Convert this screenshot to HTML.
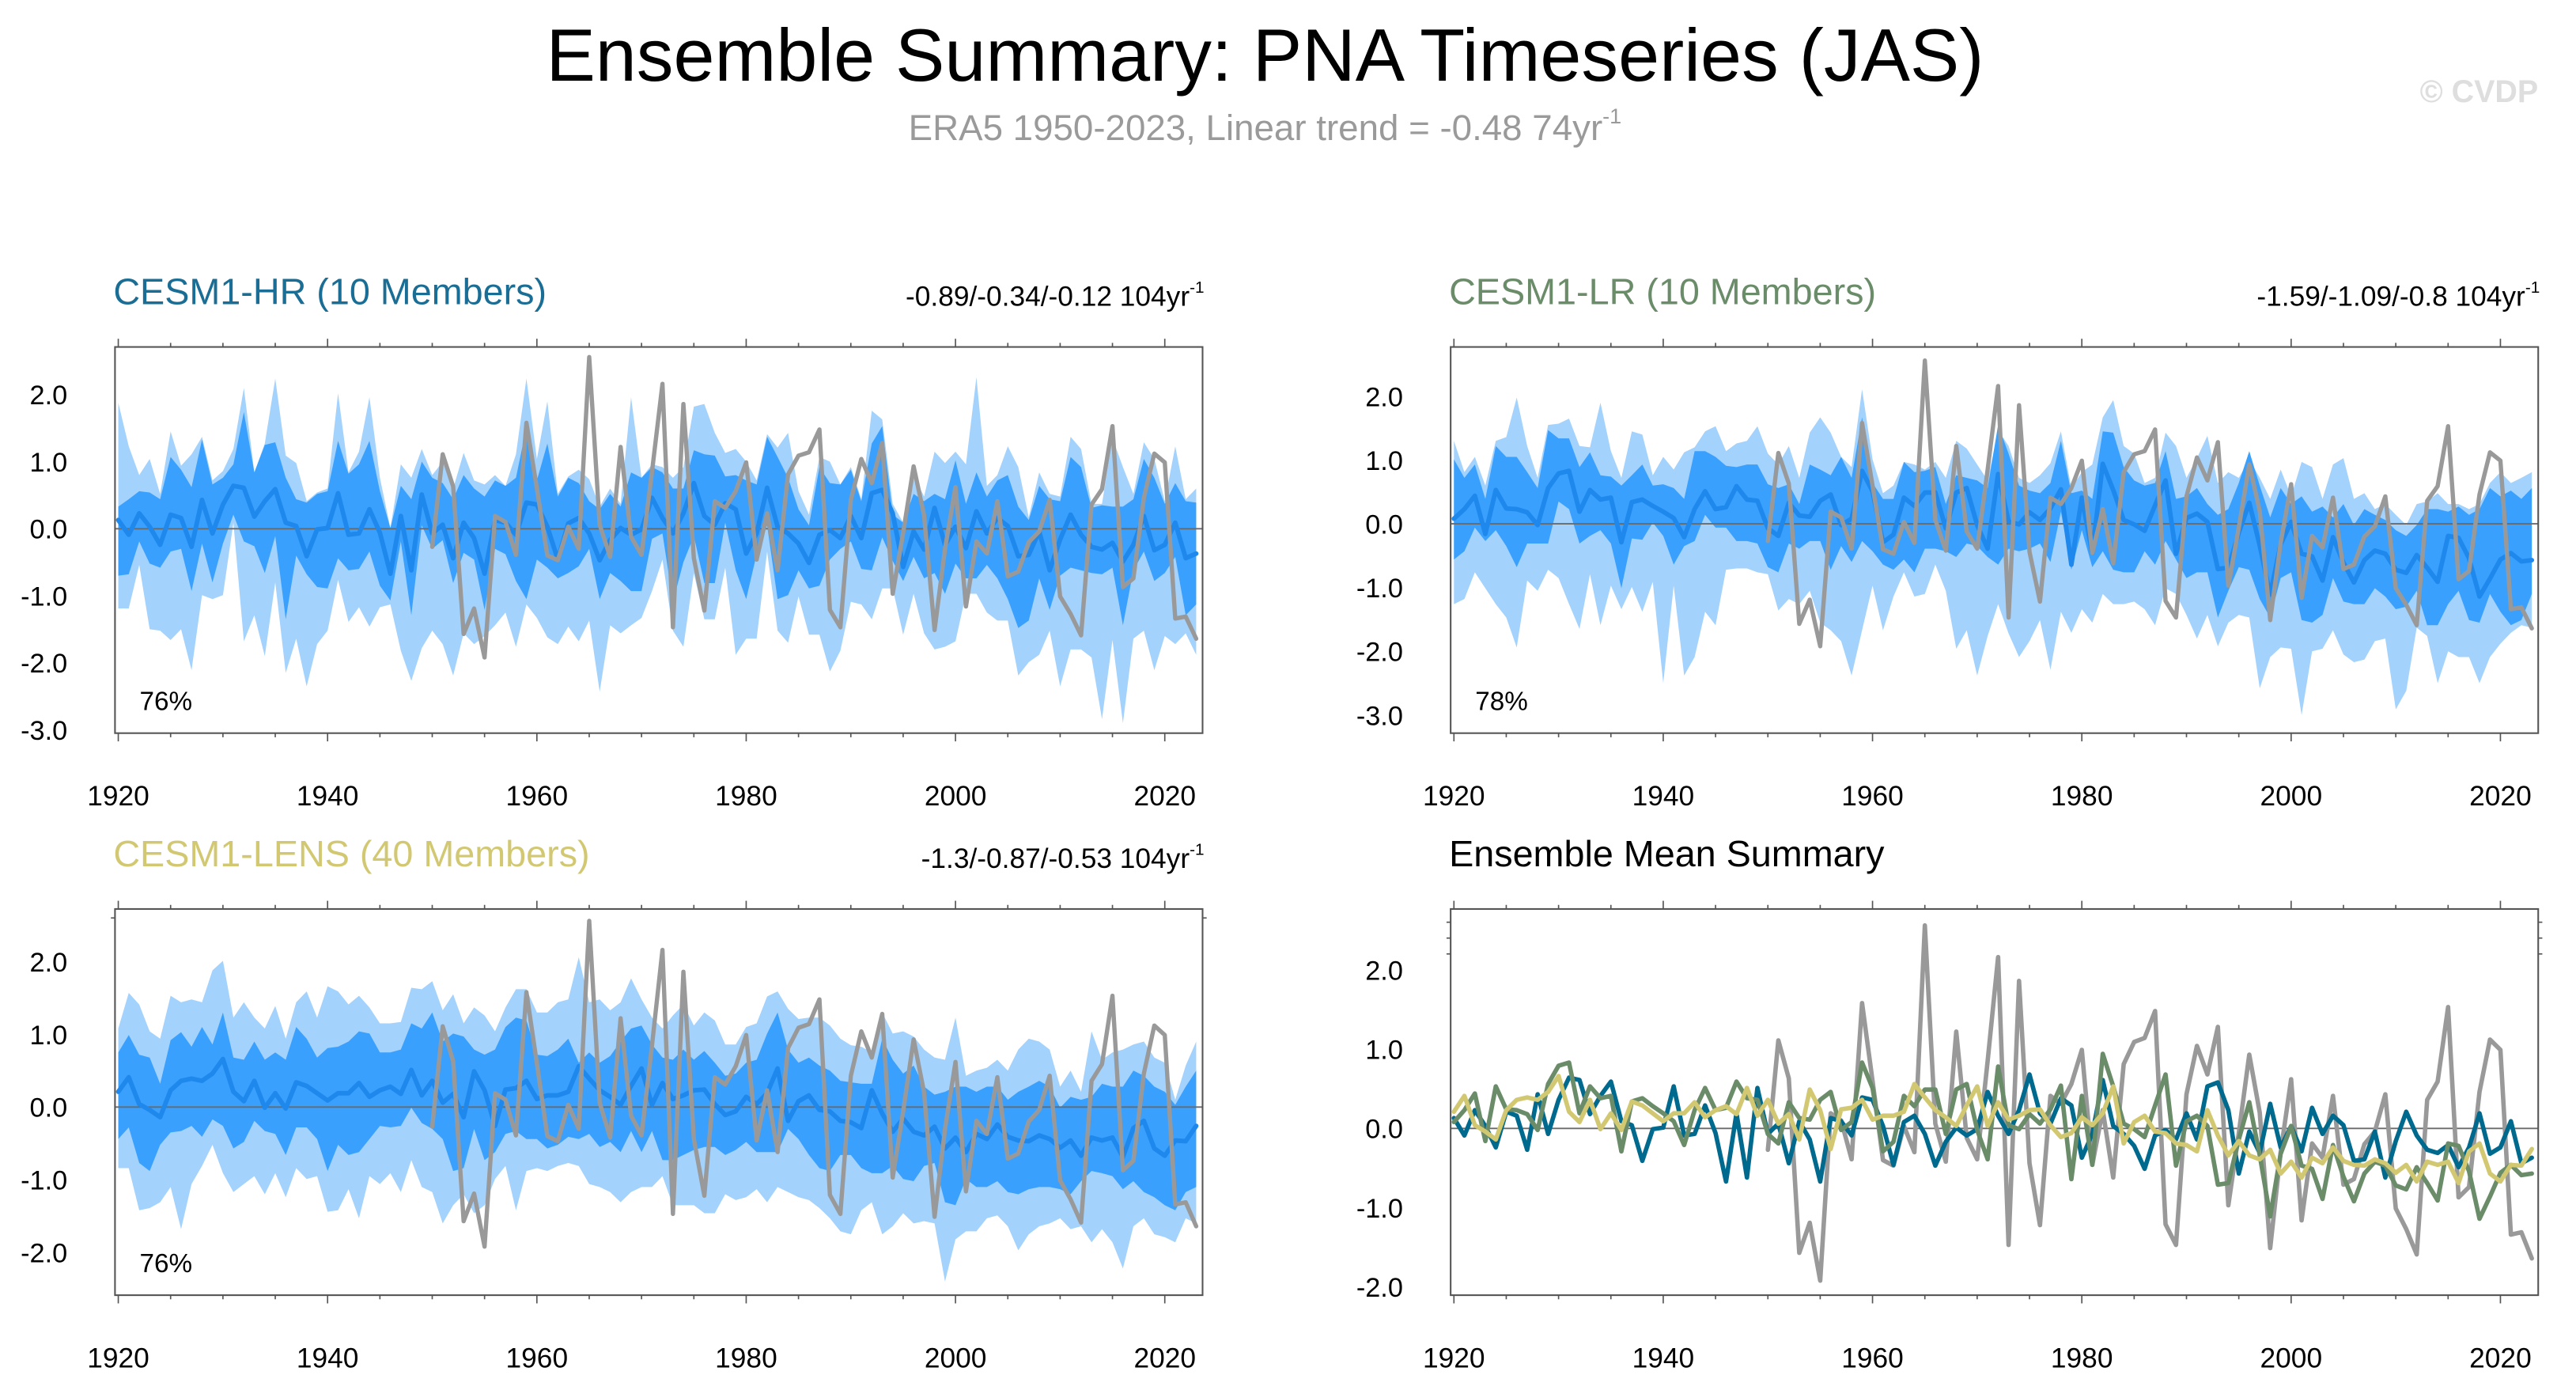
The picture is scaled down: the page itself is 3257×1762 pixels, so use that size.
<!DOCTYPE html>
<html><head><meta charset="utf-8"><style>
html,body{margin:0;padding:0;background:#fff;}
svg{display:block;font-family:"Liberation Sans",Arial,sans-serif;}
</style></head><body>
<svg id="chart" width="3257" height="1762" viewBox="0 0 1568 848" xmlns="http://www.w3.org/2000/svg">
<text x="770" y="49" font-size="45" text-anchor="middle" fill="#000">Ensemble Summary: PNA Timeseries (JAS)</text>
<text x="770" y="85" font-size="22" text-anchor="middle" fill="#9a9a9a">ERA5 1950-2023, Linear trend = -0.48 74yr<tspan font-size="13" dy="-10">-1</tspan></text>
<text x="1545" y="62" font-size="19" font-weight="bold" text-anchor="end" fill="#dedede">© CVDP</text>
<g id="panels"></g>
</svg>
<script>
// ---- data ----
const startYear = 1920;
const era5Start = 1950;
const era5 = [-0.27,1.11,0.63,-1.57,-1.19,-1.92,0.19,0.1,-0.39,1.58,0.6,-0.4,-0.47,0.03,-0.3,2.56,0.06,-0.42,1.22,-0.12,-0.39,0.85,2.16,-1.47,1.86,-0.44,-1.22,0.41,0.31,0.56,0.99,-0.46,0.23,-0.62,0.81,1.09,1.14,1.48,-1.21,-1.47,0.43,1.04,0.68,1.28,-0.97,-0.06,0.93,0.2,-1.51,-0.3,0.62,-1.16,-0.19,-0.37,0.41,-0.71,-0.64,-0.2,-0.04,0.43,-1.01,-1.27,-1.59,0.36,0.59,1.53,-0.87,-0.74,0.46,1.12,0.99,-1.34,-1.31,-1.64];
const hrMean = [0.13,-0.09,0.23,0.03,-0.24,0.21,0.16,-0.27,0.43,-0.07,0.36,0.64,0.61,0.18,0.41,0.59,0.09,0.04,-0.41,-0.01,0.01,0.53,-0.09,-0.07,0.29,-0.06,-0.67,0.19,-0.62,0.51,-0.07,0.06,-0.44,0.09,-0.14,-0.67,0.13,0.09,-0.09,0.39,0.36,0.03,-0.46,0.08,0.16,-0.07,-0.47,-0.17,0.01,-0.09,-0.01,0.46,0.16,-0.07,0.23,0.68,0.19,0.06,0.38,0.29,-0.37,-0.07,0.61,0.03,-0.07,-0.22,-0.51,-0.09,-0.02,-0.14,0.19,-0.14,0.53,0.58,0.23,-0.57,-0.04,-0.31,0.31,-0.24,0.03,-0.29,0.26,-0.07,0.16,0.04,-0.41,-0.39,-0.04,-0.62,-0.16,0.21,-0.09,-0.27,-0.31,-0.21,-0.49,-0.24,0.19,-0.32,-0.24,0.09,-0.44,-0.37];
const lrMean = [0.08,0.23,0.44,-0.16,0.53,0.24,0.23,0.18,-0.02,0.56,0.79,0.83,0.19,0.53,0.38,0.41,-0.29,0.34,0.38,0.28,0.19,0.09,-0.21,0.23,0.51,0.23,0.26,0.59,0.38,0.36,-0.07,-0.19,0.33,0.13,0.11,0.36,0.46,-0.02,0.08,0.83,0.51,-0.29,-0.17,0.41,0.28,0.49,0.49,-0.07,0.49,0.56,-0.02,-0.39,0.78,0.04,-0.01,0.18,0.06,0.24,0.54,-0.64,0.41,-0.46,0.94,0.53,0.06,-0.01,-0.11,0.29,0.68,-0.47,0.09,0.16,0.03,-0.71,-0.69,-0.14,0.33,-0.34,-1.11,-0.32,0.03,-0.47,-0.51,-0.89,-0.21,-0.61,-0.92,-0.57,-0.42,-0.47,-0.72,-0.77,-0.49,-0.69,-0.91,-0.19,-0.22,-0.54,-1.14,-0.86,-0.56,-0.46,-0.59,-0.57];
const lensMean = [0.21,0.41,0.04,-0.04,-0.14,0.23,0.36,0.39,0.36,0.46,0.66,0.21,0.08,0.36,-0.01,0.19,-0.02,0.34,0.29,0.19,0.09,0.19,0.19,0.33,0.14,0.23,0.28,0.18,0.51,0.16,0.36,0.06,0.18,-0.14,0.49,0.23,-0.26,0.24,0.26,0.36,0.11,0.16,0.16,0.21,0.56,0.39,0.23,0.14,0.03,0.29,0.53,0.03,0.33,0.11,0.16,0.23,0.24,0.04,-0.11,-0.06,0.14,0.04,0.19,0.53,-0.19,0.08,0.16,-0.04,-0.06,-0.19,-0.21,-0.29,0.23,-0.09,-0.34,-0.16,-0.34,-0.39,-0.27,-0.57,-0.42,-0.62,-0.37,-0.44,-0.24,-0.41,-0.46,-0.47,-0.39,-0.44,-0.56,-0.46,-0.67,-0.42,-0.46,-0.42,-0.69,-0.29,-0.19,-0.57,-0.67,-0.46,-0.47,-0.26];

const hrLightTop = [1.88,1.23,0.8,1.04,0.52,1.45,0.94,1.11,1.37,0.72,0.86,1.19,2.1,0.84,1.27,2.24,1.09,0.98,0.41,0.54,0.6,2.02,0.84,1.15,1.96,0.76,0.01,0.96,0.76,1.19,0.8,1.0,0.6,1.13,0.72,0.66,0.8,0.64,1.11,2.24,1.04,1.9,0.52,0.78,0.88,0.74,0.33,0.6,0.37,1.96,0.76,0.96,0.92,0.76,0.92,1.82,1.86,1.43,1.13,1.19,1.0,0.72,1.41,1.21,1.43,0.56,0.21,1.07,1.0,0.66,0.92,0.44,1.76,1.63,0.37,0.09,0.8,0.48,1.15,0.98,1.15,0.96,2.26,0.64,0.8,1.23,0.92,0.17,0.84,0.52,0.48,1.37,1.19,0.37,0.37,1.35,0.92,0.52,1.29,1.04,0.41,1.23,0.44,0.6];
const hrDarkTop = [0.33,0.44,0.56,0.54,0.44,1.07,0.88,0.62,1.33,0.66,0.76,0.96,1.74,0.84,1.25,1.29,0.76,0.44,0.39,0.52,0.56,1.31,0.82,0.96,1.31,0.56,0.01,0.64,0.44,1.0,0.76,0.68,0.44,0.8,0.6,0.48,0.72,0.64,0.76,1.51,0.72,1.27,0.48,0.76,0.68,0.41,0.29,0.52,0.33,0.84,0.76,0.92,0.84,0.6,0.6,1.17,1.11,1.09,0.78,0.8,0.72,0.66,1.37,1.07,0.76,0.29,0.05,0.92,0.68,0.66,0.88,0.41,1.27,1.53,0.21,0.09,0.52,0.41,0.52,0.44,1.02,0.37,0.84,0.48,0.72,0.8,0.33,0.13,0.64,0.44,0.41,1.07,0.92,0.31,0.35,0.33,0.33,0.44,1.04,0.76,0.37,0.68,0.41,0.39];
const hrDarkBot = [-0.7,-0.68,-0.19,-0.52,-0.58,-0.34,-0.3,-0.93,-0.22,-0.8,-0.22,0.21,-0.19,-0.26,-0.66,-0.11,-1.35,-0.4,-0.68,-0.87,-0.89,-0.44,-0.62,-0.6,-0.34,-0.85,-1.07,-0.19,-1.29,0.05,-0.3,-0.17,-0.81,-0.36,-0.46,-1.21,-0.3,-0.38,-0.78,-1.05,-0.46,-0.58,-0.74,-0.66,-0.56,-0.3,-1.05,-0.66,-0.78,-0.93,-0.93,-0.15,-0.07,-1.09,-0.5,-0.11,-0.81,-0.81,0.09,-0.62,-1.05,-0.38,0.05,-1.05,-0.99,-0.62,-0.89,-0.85,-0.46,-0.3,-0.19,-0.6,-0.62,-0.13,-0.48,-0.78,-0.42,-0.74,-0.66,-0.97,-0.52,-0.74,-0.74,-0.54,-0.74,-1.05,-1.48,-1.37,-0.74,-1.21,-0.7,-0.58,-0.62,-0.66,-0.68,-0.58,-1.44,-0.62,-0.34,-0.78,-0.66,-0.42,-1.29,-1.13];
const hrLightBot = [-1.19,-1.19,-0.54,-1.5,-1.52,-1.66,-1.5,-2.11,-0.99,-1.05,-0.99,0.09,-1.68,-1.29,-1.9,-0.8,-2.15,-1.64,-2.35,-1.72,-1.52,-0.76,-1.39,-1.17,-1.46,-1.17,-1.13,-1.82,-2.27,-1.78,-1.52,-1.72,-2.19,-1.56,-1.72,-1.6,-1.44,-1.25,-1.76,-1.13,-1.33,-1.62,-1.72,-1.46,-1.68,-1.37,-2.43,-1.44,-1.56,-1.44,-1.33,-0.93,-0.46,-1.52,-1.76,-0.66,-1.35,-1.35,-0.58,-1.88,-1.64,-1.64,-0.34,-1.52,-1.7,-1.01,-1.58,-1.58,-2.13,-1.82,-1.09,-1.13,-1.35,-0.89,-0.89,-1.58,-0.97,-1.56,-1.8,-1.76,-1.68,-0.97,-0.97,-1.25,-1.37,-1.37,-2.19,-1.99,-1.88,-1.52,-2.35,-1.8,-1.8,-1.92,-2.84,-1.66,-2.9,-1.64,-1.52,-2.11,-1.6,-1.72,-1.56,-1.88];

const lrLightTop = [1.3,0.81,1.05,0.6,1.3,1.36,1.98,1.22,0.72,1.55,1.57,1.65,1.22,1.2,1.9,1.14,0.72,1.45,1.4,0.76,1.05,0.85,1.12,1.2,1.45,1.53,1.14,1.26,1.3,1.53,1.1,0.93,1.22,0.72,1.43,1.67,1.43,1.05,0.89,2.11,1.01,0.48,0.6,0.97,0.93,0.85,0.97,0.72,1.3,1.18,0.93,0.68,1.47,1.22,0.72,0.64,0.76,0.95,1.45,0.56,0.81,0.93,1.67,1.94,1.22,1.1,0.64,0.72,1.43,1.22,0.72,1.03,1.38,0.64,0.81,0.72,1.01,0.72,0.39,0.85,0.43,0.97,0.89,0.39,0.93,1.03,0.39,0.48,0.23,0.31,0.14,-0.02,0.31,0.35,0.48,0.31,0.31,0.23,0.31,0.64,0.81,0.64,0.72,0.81];
const lrDarkTop = [1.01,0.72,0.93,0.39,1.22,1.05,1.05,0.81,0.56,1.47,1.34,1.34,0.89,1.12,0.76,0.74,0.6,0.76,0.93,0.6,0.62,0.56,0.39,1.14,1.14,1.05,0.91,0.89,0.93,0.93,0.62,0.56,0.62,0.31,0.93,0.85,0.76,1.05,0.72,1.67,0.64,0.39,0.39,0.97,0.81,0.83,0.89,0.31,0.76,0.72,0.68,0.56,1.55,1.1,0.6,0.52,0.48,0.64,1.3,0.48,0.52,0.39,1.45,1.43,0.89,0.68,0.6,0.64,1.14,0.39,0.43,0.56,0.31,0.14,0.23,0.64,1.14,0.6,0.1,0.56,0.31,0.43,0.19,0.27,0.1,0.31,-0.02,0.23,0.14,0.06,-0.1,-0.19,-0.02,0.23,0.23,0.19,0.27,0.14,0.23,0.56,0.43,0.52,0.39,0.56];
const lrDarkBot = [-0.56,-0.43,-0.06,-0.27,-0.1,-0.35,-0.68,-0.31,-0.31,-0.31,0.35,0.23,-0.31,-0.19,-0.1,-0.31,-1.01,-0.23,-0.25,0.02,-0.19,-0.64,-0.35,-0.27,0.14,-0.06,-0.06,-0.27,-0.27,-0.31,-0.68,-0.76,-0.31,-0.39,-0.27,-0.27,-0.72,-0.35,-0.6,-0.27,-0.43,-0.64,-0.72,-0.56,-0.76,-0.39,-0.39,-0.43,-0.52,-0.31,-0.35,-0.52,-0.64,-0.39,-0.43,-0.39,-0.31,-0.6,0.19,-0.72,-0.1,-0.68,-0.43,-0.72,-0.76,-0.76,-0.43,-0.64,-0.27,-0.56,-0.85,-0.76,-0.76,-1.47,-1.05,-0.68,-0.72,-1.18,-1.47,-0.85,-0.76,-1.51,-1.55,-1.43,-0.85,-1.22,-1.26,-1.26,-1.01,-1.14,-1.34,-1.3,-1.05,-1.59,-1.59,-1.26,-1.05,-1.51,-1.55,-1.1,-1.38,-1.59,-1.51,-1.1];
const lrLightBot = [-1.26,-1.18,-0.76,-1.01,-1.26,-1.47,-1.94,-0.89,-1.05,-0.72,-0.85,-1.26,-1.65,-0.79,-1.59,-0.97,-1.34,-0.99,-1.38,-0.91,-2.5,-0.97,-2.38,-2.09,-1.38,-1.59,-0.72,-0.7,-0.7,-0.76,-0.79,-1.36,-1.18,-1.26,-1.05,-1.55,-1.67,-1.84,-2.38,-1.67,-0.97,-1.67,-1.14,-0.76,-1.14,-1.1,-0.64,-1.05,-1.96,-1.67,-2.38,-1.76,-1.26,-1.72,-2.09,-1.84,-1.51,-2.29,-1.38,-1.71,-1.34,-1.55,-1.1,-1.26,-1.26,-1.22,-1.34,-1.59,-1.01,-1.1,-1.43,-1.8,-1.43,-1.92,-1.55,-1.43,-1.47,-2.58,-2.09,-1.94,-1.96,-3.0,-2.0,-1.96,-1.67,-2.05,-2.17,-2.13,-1.84,-1.8,-2.91,-2.62,-1.63,-1.76,-2.5,-2.0,-2.09,-2.09,-2.5,-2.09,-1.88,-1.71,-1.59,-1.63];

const lensLightTop = [1.08,1.57,1.41,1.04,0.94,1.53,1.44,1.48,1.44,1.88,2.01,1.23,1.44,1.23,1.08,1.39,0.94,1.44,1.59,1.23,1.66,1.59,1.41,1.53,1.37,1.15,1.15,1.17,1.64,1.62,1.73,1.33,1.55,1.15,1.37,1.26,1.04,1.37,1.62,1.62,1.3,1.3,1.44,1.48,2.06,1.44,1.48,1.33,1.44,1.77,1.48,1.23,1.08,1.26,1.41,1.12,1.3,1.19,0.86,0.86,1.1,1.15,1.52,1.59,1.35,1.21,1.23,1.23,1.12,0.94,0.85,0.83,0.75,1.3,1.01,1.04,0.97,0.79,0.68,0.65,1.23,0.43,0.5,0.54,0.65,0.5,0.79,0.94,0.9,0.79,0.28,0.5,0.21,1.04,0.65,0.75,0.79,0.86,0.9,0.68,0.61,0.1,0.57,0.9];
const lensDarkTop = [0.75,0.99,0.72,0.68,0.32,0.92,1.03,0.83,1.1,0.86,1.3,0.68,0.65,0.9,0.65,0.75,0.65,1.1,0.94,0.68,0.81,0.83,0.9,1.04,1.01,0.75,0.75,0.79,1.15,1.08,1.3,0.9,1.01,0.97,0.79,0.72,0.79,1.1,1.23,1.19,0.72,0.7,0.79,0.94,0.61,0.75,0.61,0.7,0.9,1.08,1.12,0.86,0.68,0.65,0.79,0.65,0.77,0.61,0.43,0.46,0.61,0.65,1.01,1.3,0.79,0.61,0.68,0.57,0.5,0.36,0.34,0.32,0.32,0.94,0.65,0.46,0.57,0.28,0.17,0.21,0.28,0.28,0.21,0.28,0.28,0.1,0.21,0.28,0.36,0.28,-0.01,0.14,0.1,0.14,0.32,0.28,0.28,0.5,0.43,0.28,0.21,0.03,0.28,0.5];
const lensDarkBot = [-0.44,-0.28,-0.77,-0.88,-0.52,-0.35,-0.33,-0.26,-0.41,-0.17,-0.26,-0.57,-0.48,-0.19,-0.33,-0.37,-0.66,-0.28,-0.28,-0.44,-0.88,-0.52,-0.66,-0.62,-0.44,-0.26,-0.28,-0.26,-0.01,-0.22,-0.3,-0.44,-0.88,-0.84,-0.3,-0.73,-0.62,-0.37,-0.33,-0.44,-0.44,-0.57,-0.52,-0.41,-0.44,-0.37,-0.55,-0.48,-0.62,-0.33,-0.62,-0.33,-0.73,-0.73,-0.66,-0.59,-0.55,-0.55,-0.66,-0.59,-0.48,-0.62,-0.62,-0.62,-0.3,-0.44,-0.66,-0.84,-0.88,-0.66,-0.66,-0.84,-0.91,-0.91,-0.81,-0.99,-1.02,-0.81,-0.77,-1.31,-1.35,-0.99,-1.1,-1.1,-1.02,-1.17,-1.2,-1.13,-1.1,-1.1,-1.13,-1.2,-1.02,-0.88,-0.91,-0.95,-1.13,-1.02,-1.17,-1.24,-1.35,-1.42,-1.17,-1.1];
const lensLightBot = [-0.84,-0.84,-1.42,-1.39,-1.31,-1.1,-1.68,-1.06,-0.81,-0.52,-0.91,-1.17,-1.06,-0.95,-1.2,-0.91,-1.24,-0.84,-0.99,-0.95,-1.44,-1.42,-1.13,-1.53,-0.95,-1.06,-0.91,-1.17,-0.73,-1.1,-1.17,-1.6,-1.35,-1.2,-1.46,-1.35,-0.99,-0.81,-1.42,-0.88,-0.84,-0.88,-0.81,-0.77,-0.81,-1.06,-1.1,-1.17,-1.31,-1.17,-1.1,-1.1,-0.95,-1.35,-1.35,-1.35,-1.46,-1.46,-1.2,-1.28,-1.24,-1.13,-1.31,-1.1,-1.17,-1.24,-1.28,-1.39,-1.53,-1.71,-1.75,-1.42,-1.31,-1.75,-1.64,-1.46,-1.6,-1.57,-1.6,-2.4,-1.82,-1.71,-1.71,-1.53,-1.49,-1.64,-1.97,-1.75,-1.64,-1.6,-1.53,-1.68,-1.64,-1.86,-1.68,-1.86,-2.22,-1.64,-1.53,-1.75,-1.79,-1.86,-1.53,-1.6];

const yTicksA = [2.0,1.0,0.0,-1.0,-2.0,-3.0];
const yTicksB = [2.0,1.0,0.0,-1.0,-2.0];
const xTicks = [1920,1940,1960,1980,2000,2020];

// ---- rendering ----
const NS = "http://www.w3.org/2000/svg";
const root = document.getElementById('panels');
function el(tag, attrs, parent){
  const e = document.createElementNS(NS, tag);
  for (const k in attrs) e.setAttribute(k, attrs[k]);
  (parent||root).appendChild(e);
  return e;
}
const C_LIGHT = "#a3d2fd", C_DARK = "#3aa0fe", C_MEAN = "#1f88ec", C_OBS = "#999999";

function makePanel(cfg){
  const g = el('g', {});
  
  
  const L = cfg.left, T = cfg.top, W = 662, H = 235;
  const xs = yr => L + 2 + (yr - startYear) * 6.37;
  const ys = v => cfg.zeroY - v * cfg.unit;
  const yMin = (cfg.zeroY - (T + H)) / -cfg.unit, yMax = (cfg.zeroY - T) / cfg.unit;

  const clipId = 'clip-' + cfg.name;
  const cp = el('clipPath', {id: clipId}, g);
  el('rect', {x: L, y: T, width: W, height: H}, cp);
  const plot = el('g', {'clip-path': 'url(#' + clipId + ')'}, g);

  function band(top, bot, color, nm){
    let pts = [];
    top.forEach((v, i) => pts.push(xs(startYear + i).toFixed(2) + ',' + ys(v).toFixed(2)));
    for (let i = bot.length - 1; i >= 0; i--) pts.push(xs(startYear + i).toFixed(2) + ',' + ys(bot[i]).toFixed(2));
    const p = el('polygon', {points: pts.join(' '), fill: color, stroke: 'none'}, plot);
    
    
  }
  function line(arr, y0, color, w, nm){
    const pts = arr.map((v, i) => xs(y0 + i).toFixed(2) + ',' + ys(v).toFixed(2)).join(' ');
    const p = el('polyline', {points: pts, fill: 'none', stroke: color, 'stroke-width': w, 'stroke-linejoin': 'round', 'stroke-linecap': 'round'}, plot);
    
    
  }
  if (cfg.bands){
    band(cfg.bands[0], cfg.bands[3], C_LIGHT, 'outer-spread-band');
    band(cfg.bands[1], cfg.bands[2], C_DARK, 'inner-spread-band');
  }
  const zl = el('line', {x1: L, x2: L + W, y1: ys(0), y2: ys(0), stroke: '#6a6a6a', 'stroke-width': 0.9}, plot);
  
  
  if (cfg.bands){
    line(cfg.mean, startYear, C_MEAN, 2.8, 'ensemble-mean-line');
    line(era5, era5Start, C_OBS, 2.6, 'era5-observed-line');
  } else {
    line(era5, era5Start, C_OBS, 2.7, 'era5-observed-line');
    line(hrMean, startYear, '#006a8e', 2.7, 'cesm1-hr-mean-line');
    line(lrMean, startYear, '#6a8c69', 2.7, 'cesm1-lr-mean-line');
    line(lensMean, startYear, '#d3c872', 2.7, 'cesm1-lens-mean-line');
  }
  const fr = el('rect', {x: L, y: T, width: W, height: H, fill: 'none', stroke: '#555', 'stroke-width': 1}, g);
  
  
  for (let yr = 1920; yr <= 2023; yr += 5){
    const x = xs(yr), major = (yr % 20 === 0), len = major ? 5 : 2.5;
    el('line', {x1: x, x2: x, y1: T + H, y2: T + H + len, stroke: '#555', 'stroke-width': 0.8}, g);
    el('line', {x1: x, x2: x, y1: T, y2: T - len, stroke: '#555', 'stroke-width': 0.8}, g);
  }
  xTicks.forEach(yr => {
    const t = el('text', {x: xs(yr), y: T + H + 44, 'font-size': 17, 'text-anchor': 'middle', fill: '#000'}, g);
    t.textContent = yr;
    
    
  });
  for (let k = Math.ceil(yMin * 5); k <= Math.floor(yMax * 5); k++){
    const v = k / 5, y = ys(v), major = (k % 5 === 0), len = major ? 5 : 2.5;
    el('line', {x1: L, x2: L - len, y1: y, y2: y, stroke: '#555', 'stroke-width': 0.8}, g);
    el('line', {x1: L + W, x2: L + W + len, y1: y, y2: y, stroke: '#555', 'stroke-width': 0.8}, g);
  }
  cfg.yTicks.forEach(v => {
    const t = el('text', {x: L - 29, y: ys(v) + 6, 'font-size': 16.5, 'text-anchor': 'end', fill: '#000'}, g);
    t.textContent = v.toFixed(1);
    
    
  });
  const tt = el('text', {x: L - 1, y: T - 26, 'font-size': 22.5, fill: cfg.titleColor}, g);
  tt.textContent = cfg.title;
  
  
  if (cfg.trend){
    const tr = el('text', {x: L + W + 1, y: T - 25, 'font-size': 17, 'text-anchor': 'end', fill: '#000'}, g);
    tr.textContent = cfg.trend;
    const sup = el('tspan', {'font-size': 10, dy: -8}, tr);
    sup.textContent = '-1';
    
    
  }
  if (cfg.pct){
    const pc = el('text', {x: L + 15, y: T + H - 14, 'font-size': 16, fill: '#000'}, g);
    pc.textContent = cfg.pct;
    
    
  }
}

makePanel({name: 'cesm1-hr-panel', left: 70, top: 211, zeroY: 321.6, unit: 40.8, yTicks: yTicksA,
  title: 'CESM1-HR (10 Members)', titleColor: '#1a6e95', trend: '-0.89/-0.34/-0.12 104yr', pct: '76%',
  mean: hrMean, bands: [hrLightTop, hrDarkTop, hrDarkBot, hrLightBot]});
makePanel({name: 'cesm1-lr-panel', left: 883, top: 211, zeroY: 318.6, unit: 38.8, yTicks: yTicksA,
  title: 'CESM1-LR (10 Members)', titleColor: '#6a8c69', trend: '-1.59/-1.09/-0.8 104yr', pct: '78%',
  mean: lrMean, bands: [lrLightTop, lrDarkTop, lrDarkBot, lrLightBot]});
makePanel({name: 'cesm1-lens-panel', left: 70, top: 553, zeroY: 673.5, unit: 44.25, yTicks: yTicksB,
  title: 'CESM1-LENS (40 Members)', titleColor: '#d3c872', trend: '-1.3/-0.87/-0.53 104yr', pct: '76%',
  mean: lensMean, bands: [lensLightTop, lensDarkTop, lensDarkBot, lensLightBot]});
makePanel({name: 'ensemble-mean-summary-panel', left: 883, top: 553, zeroY: 686.5, unit: 48.25, yTicks: yTicksB,
  title: 'Ensemble Mean Summary', titleColor: '#000', trend: null, pct: null, bands: null});
</script>
</body></html>
